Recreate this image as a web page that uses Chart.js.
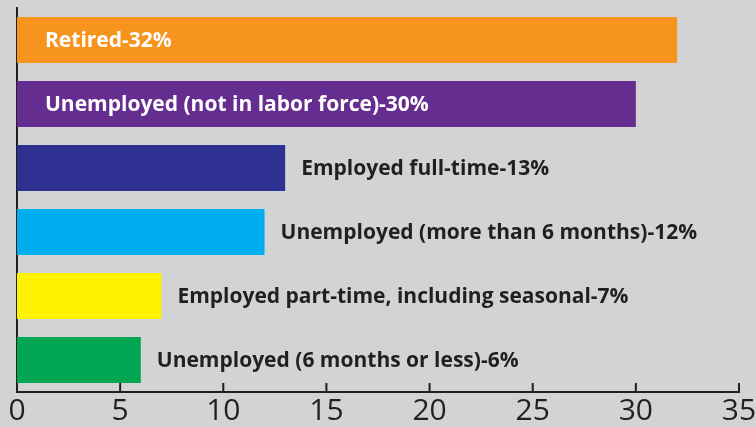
<!DOCTYPE html>
<html>
<head>
<meta charset="utf-8">
<script src="https://cdn.jsdelivr.net/npm/chart.js@4"></script>
<style>
  html, body { margin: 0; padding: 0; background: #d1d3d4; }
  #wrap { width: 756px; height: 427px; }
</style>
</head>
<body>
<div id="wrap"><canvas id="bar-status"></canvas></div>
<script>
const categories = [
  'Retired',
  'Unemployed (not in labor force)',
  'Employed full-time',
  'Unemployed (more than 6 months)',
  'Employed part-time, including seasonal',
  'Unemployed (6 months or less)'
];
const percents = [32, 30, 13, 12, 7, 6];
const barColors = ['#f7941d', '#662d91', '#2e3192', '#00aeef', '#fff200', '#00a651'];
const insideLabel = [true, true, false, false, false, false];
const xTicks = [0, 5, 10, 15, 20, 25, 30, 35];

const ink = '#231f20';

// labels drawn next to / inside each bar
const barLabels = {
  id: 'barLabels',
  afterDatasetsDraw(chart) {
    const c = chart.ctx;
    const meta = chart.getDatasetMeta(0);
    const left = chart.scales.x.getPixelForValue(0);
    c.save();
    c.font = 'bold 21px "Open Sans"';
    c.textBaseline = 'middle';
    meta.data.forEach((bar, i) => {
      const txt = categories[i] + '-' + percents[i] + '%';
      if (insideLabel[i]) {
        c.fillStyle = '#ffffff';
        c.fillText(txt, left + 28, bar.y + 1);
      } else {
        c.fillStyle = ink;
        c.fillText(txt, bar.x + 16, bar.y + 1);
      }
    });
    c.restore();
  }
};

// short tick marks pointing up from the x axis
const innerTicks = {
  id: 'innerTicks',
  afterDraw(chart) {
    const c = chart.ctx;
    const x = chart.scales.x;
    const bottom = chart.chartArea.bottom;
    c.save();
    c.strokeStyle = ink;
    c.lineWidth = 2;
    xTicks.forEach(v => {
      const px = x.getPixelForValue(v);
      c.beginPath();
      c.moveTo(px, bottom);
      c.lineTo(px, bottom - 9);
      c.stroke();
    });
    c.restore();
  }
};

new Chart(document.getElementById('bar-status'), {
  type: 'bar',
  data: {
    labels: categories,
    datasets: [{
      data: percents,
      backgroundColor: barColors,
      borderWidth: 0,
      barPercentage: 0.72,
      categoryPercentage: 1
    }]
  },
  options: {
    indexAxis: 'y',
    responsive: true,
    maintainAspectRatio: false,
    animation: false,
    layout: { padding: { top: 8, right: 0, left: 0, bottom: 0 } },
    plugins: {
      legend: { display: false },
      tooltip: { enabled: false }
    },
    scales: {
      x: {
        min: 0,
        max: 35,
        afterBuildTicks: (scale) => { scale.ticks = xTicks.map(v => ({ value: v })); },
        afterFit: (scale) => { scale.height = 35; scale.paddingRight = 17; },
        grid: { display: false, drawTicks: false },
        border: { display: true, color: ink, width: 2 },
        ticks: {
          color: ink,
          padding: 4,
          maxRotation: 0,
          font: { family: '"Open Sans"', size: 30, lineHeight: 1 }
        }
      },
      y: {
        grid: { display: false, drawTicks: false },
        border: { display: true, color: ink, width: 2 },
        ticks: { display: false },
        afterFit: (scale) => { scale.width = 17; }
      }
    }
  },
  plugins: [barLabels, innerTicks]
});
</script>
</body>
</html>
